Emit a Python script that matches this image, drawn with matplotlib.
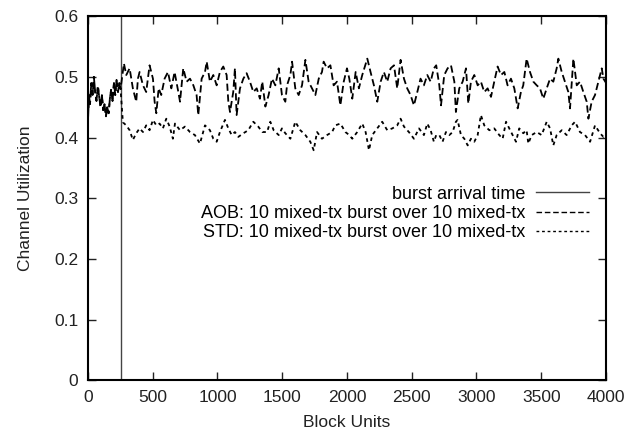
import numpy as np
import matplotlib.pyplot as plt
from matplotlib.ticker import FuncFormatter

plt.rcParams['font.family'] = ['Liberation Sans', 'DejaVu Sans']

burst_time = 255

# before the burst both runs are the same
pre_x = [0, 8, 16, 26, 36, 46, 56, 66, 77, 88, 98, 108, 118, 128, 139, 149,
         160, 170, 180, 190, 201, 211, 221, 232, 242, 252]
pre_y = [0.425, 0.47, 0.455, 0.49, 0.47, 0.50, 0.475, 0.46, 0.485, 0.465, 0.45,
         0.47, 0.445, 0.455, 0.435, 0.45, 0.44, 0.465, 0.48, 0.46, 0.49, 0.47,
         0.495, 0.475, 0.49, 0.48]

aob_x = [278, 296, 322, 347, 373, 386, 399, 425, 450, 476, 502, 515, 528, 546,
         566, 592, 618, 644, 669,
         698, 711, 736, 762, 788, 814, 839, 852, 878, 904, 917, 942, 968, 994,
         1019, 1045, 1071, 1084, 1097, 1122, 1135, 1148, 1174, 1200, 1225, 1251,
         1277, 1303, 1328, 1346,
         1370, 1395, 1421, 1447, 1473, 1498, 1524, 1537, 1563, 1576, 1601, 1627,
         1653, 1679, 1704, 1730, 1756, 1782, 1807, 1820, 1846, 1872, 1897, 1923,
         1949, 1975, 2000, 2018,
         2041, 2067, 2092, 2118, 2157, 2182, 2208, 2234, 2260, 2285, 2311, 2337,
         2363, 2388, 2414, 2440, 2465, 2491, 2517, 2543, 2568, 2594, 2620, 2646,
         2671, 2689,
         2713, 2726, 2751, 2777, 2803, 2829, 2841, 2867, 2893, 2919, 2937, 2957,
         2983, 3009, 3034, 3060, 3086, 3112, 3137, 3163, 3189, 3215, 3240, 3266,
         3292, 3318, 3343, 3361,
         3387, 3413, 3439, 3465, 3490, 3516, 3542, 3568, 3593, 3619, 3632, 3658,
         3683, 3709, 3722, 3748, 3774, 3799, 3825, 3851, 3864, 3889, 3915, 3941,
         3967, 3980, 4000]
aob_y = [0.522, 0.503, 0.514, 0.481, 0.459, 0.497, 0.508, 0.486, 0.475, 0.519,
         0.497, 0.459, 0.440, 0.481, 0.470, 0.497, 0.508, 0.481, 0.508,
         0.475, 0.459, 0.514, 0.492, 0.497, 0.486, 0.470, 0.437, 0.497, 0.508,
         0.525, 0.492, 0.503, 0.486, 0.508, 0.517, 0.503, 0.459, 0.442, 0.475,
         0.514, 0.437, 0.481, 0.497, 0.506, 0.492, 0.475, 0.481, 0.464, 0.492,
         0.451, 0.470, 0.497, 0.486, 0.514, 0.470, 0.459, 0.486, 0.503, 0.525,
         0.481, 0.470, 0.486, 0.528, 0.492, 0.481, 0.470, 0.497, 0.508, 0.525,
         0.514, 0.519, 0.486, 0.492, 0.453, 0.492, 0.514, 0.497,
         0.464, 0.508, 0.481, 0.503, 0.530, 0.508, 0.486, 0.459, 0.492, 0.508,
         0.492, 0.514, 0.519, 0.481, 0.528, 0.497, 0.481, 0.470, 0.453, 0.475,
         0.497, 0.486, 0.503, 0.492, 0.514, 0.519,
         0.486, 0.453, 0.503, 0.514, 0.519, 0.492, 0.442, 0.481, 0.492, 0.514,
         0.456, 0.492, 0.503, 0.486, 0.492, 0.475, 0.481, 0.467, 0.492, 0.517,
         0.503, 0.508, 0.486, 0.497, 0.481, 0.448, 0.475, 0.486,
         0.530, 0.508, 0.492, 0.486, 0.481, 0.464, 0.481, 0.497, 0.492, 0.514,
         0.530, 0.508, 0.492, 0.475, 0.448, 0.530, 0.486, 0.492, 0.475, 0.459,
         0.431, 0.459, 0.470, 0.492, 0.514, 0.497, 0.490]

std_x = [270, 296, 322, 347, 373, 399, 425, 450, 476, 502, 528, 553, 579, 605,
         631, 656,
         672, 711, 749, 788, 826, 865, 904, 942, 968, 994, 1019, 1058, 1084, 1110,
         1135, 1161, 1200, 1238, 1277, 1315, 1346,
         1383, 1408, 1434, 1473, 1498, 1524, 1563, 1601, 1640, 1679, 1717, 1743,
         1769, 1807, 1846, 1885, 1910, 1949, 1988, 2018,
         2041, 2079, 2118, 2144, 2170, 2195, 2234, 2272, 2311, 2350, 2388, 2414,
         2440, 2478, 2517, 2556, 2594, 2620, 2646, 2671, 2689,
         2713, 2738, 2764, 2790, 2816, 2841, 2854, 2880, 2906, 2932, 2957, 2983,
         3009, 3034, 3060, 3099, 3137, 3176, 3202, 3228, 3253, 3279, 3305, 3330,
         3361,
         3387, 3400, 3426, 3465, 3503, 3542, 3568, 3593, 3619, 3658, 3696, 3735,
         3761, 3799, 3838, 3877, 3915, 3954, 3980, 4000]
std_y = [0.425, 0.420, 0.412, 0.396, 0.407, 0.415, 0.409, 0.420, 0.412, 0.429,
         0.420, 0.423, 0.415, 0.431, 0.418, 0.398,
         0.423, 0.412, 0.418, 0.409, 0.404, 0.390, 0.420, 0.412, 0.398, 0.393,
         0.409, 0.429, 0.415, 0.404, 0.409, 0.401, 0.407, 0.412, 0.426, 0.418,
         0.409,
         0.409, 0.426, 0.412, 0.404, 0.415, 0.407, 0.398, 0.426, 0.412, 0.404,
         0.393, 0.379, 0.409, 0.398, 0.404, 0.409, 0.420, 0.423, 0.409, 0.404,
         0.398, 0.409, 0.423, 0.409, 0.379, 0.404, 0.415, 0.426, 0.412, 0.415,
         0.420, 0.431, 0.418, 0.409, 0.398, 0.415, 0.404, 0.423, 0.412, 0.393,
         0.404,
         0.404, 0.393, 0.409, 0.404, 0.409, 0.426, 0.429, 0.404, 0.398, 0.387,
         0.398, 0.393, 0.404, 0.437, 0.420, 0.412, 0.415, 0.404, 0.398, 0.426,
         0.415, 0.404, 0.393, 0.415, 0.407,
         0.412, 0.390, 0.404, 0.409, 0.404, 0.426, 0.415, 0.387, 0.404, 0.412,
         0.404, 0.420, 0.426, 0.409, 0.404, 0.393, 0.420, 0.407, 0.401, 0.405]

x_ticks = [0, 500, 1000, 1500, 2000, 2500, 3000, 3500, 4000]
y_ticks = [0, 0.1, 0.2, 0.3, 0.4, 0.5, 0.6]

fig = plt.figure(figsize=(6.28, 4.37), dpi=100)
ax = fig.add_axes([0.140, 0.130, 0.825, 0.833])

ax.axvline(burst_time, color='#444444', lw=1.0, label='burst arrival time')
ax.plot(pre_x + aob_x, pre_y + aob_y, color='black', lw=1.3,
        linestyle=(0, (4, 2)),
        label='AOB: 10 mixed-tx burst over 10 mixed-tx')
ax.plot(pre_x + std_x, pre_y + std_y, color='black', lw=1.3,
        linestyle=(0, (2, 2)),
        label='STD: 10 mixed-tx burst over 10 mixed-tx')

ax.set_xlim(0, 4000)
ax.set_ylim(0, 0.6)
ax.set_xticks(x_ticks)
ax.set_yticks(y_ticks)
ax.yaxis.set_major_formatter(FuncFormatter(lambda v, p: '%g' % v))
ax.tick_params(direction='in', length=6, width=1, top=True, right=True,
               labelsize=12.5, colors='#222222', pad=7)
for s in ax.spines.values():
    s.set_linewidth(1.5)

ax.set_xlabel('Block Units', fontsize=12.5, color='#222222', labelpad=7)
ax.set_ylabel('Channel Utilization', fontsize=12.5, color='#222222', labelpad=15)

leg = ax.legend(loc='upper right', bbox_to_anchor=(0.984, 0.559), frameon=False,
                markerfirst=False, fontsize=13, handlelength=2.9,
                handletextpad=0.6, labelspacing=0.12, borderpad=0)
for h in leg.get_lines():
    h.set_linewidth(1.0)

fig.savefig('out.png', dpi=100)
